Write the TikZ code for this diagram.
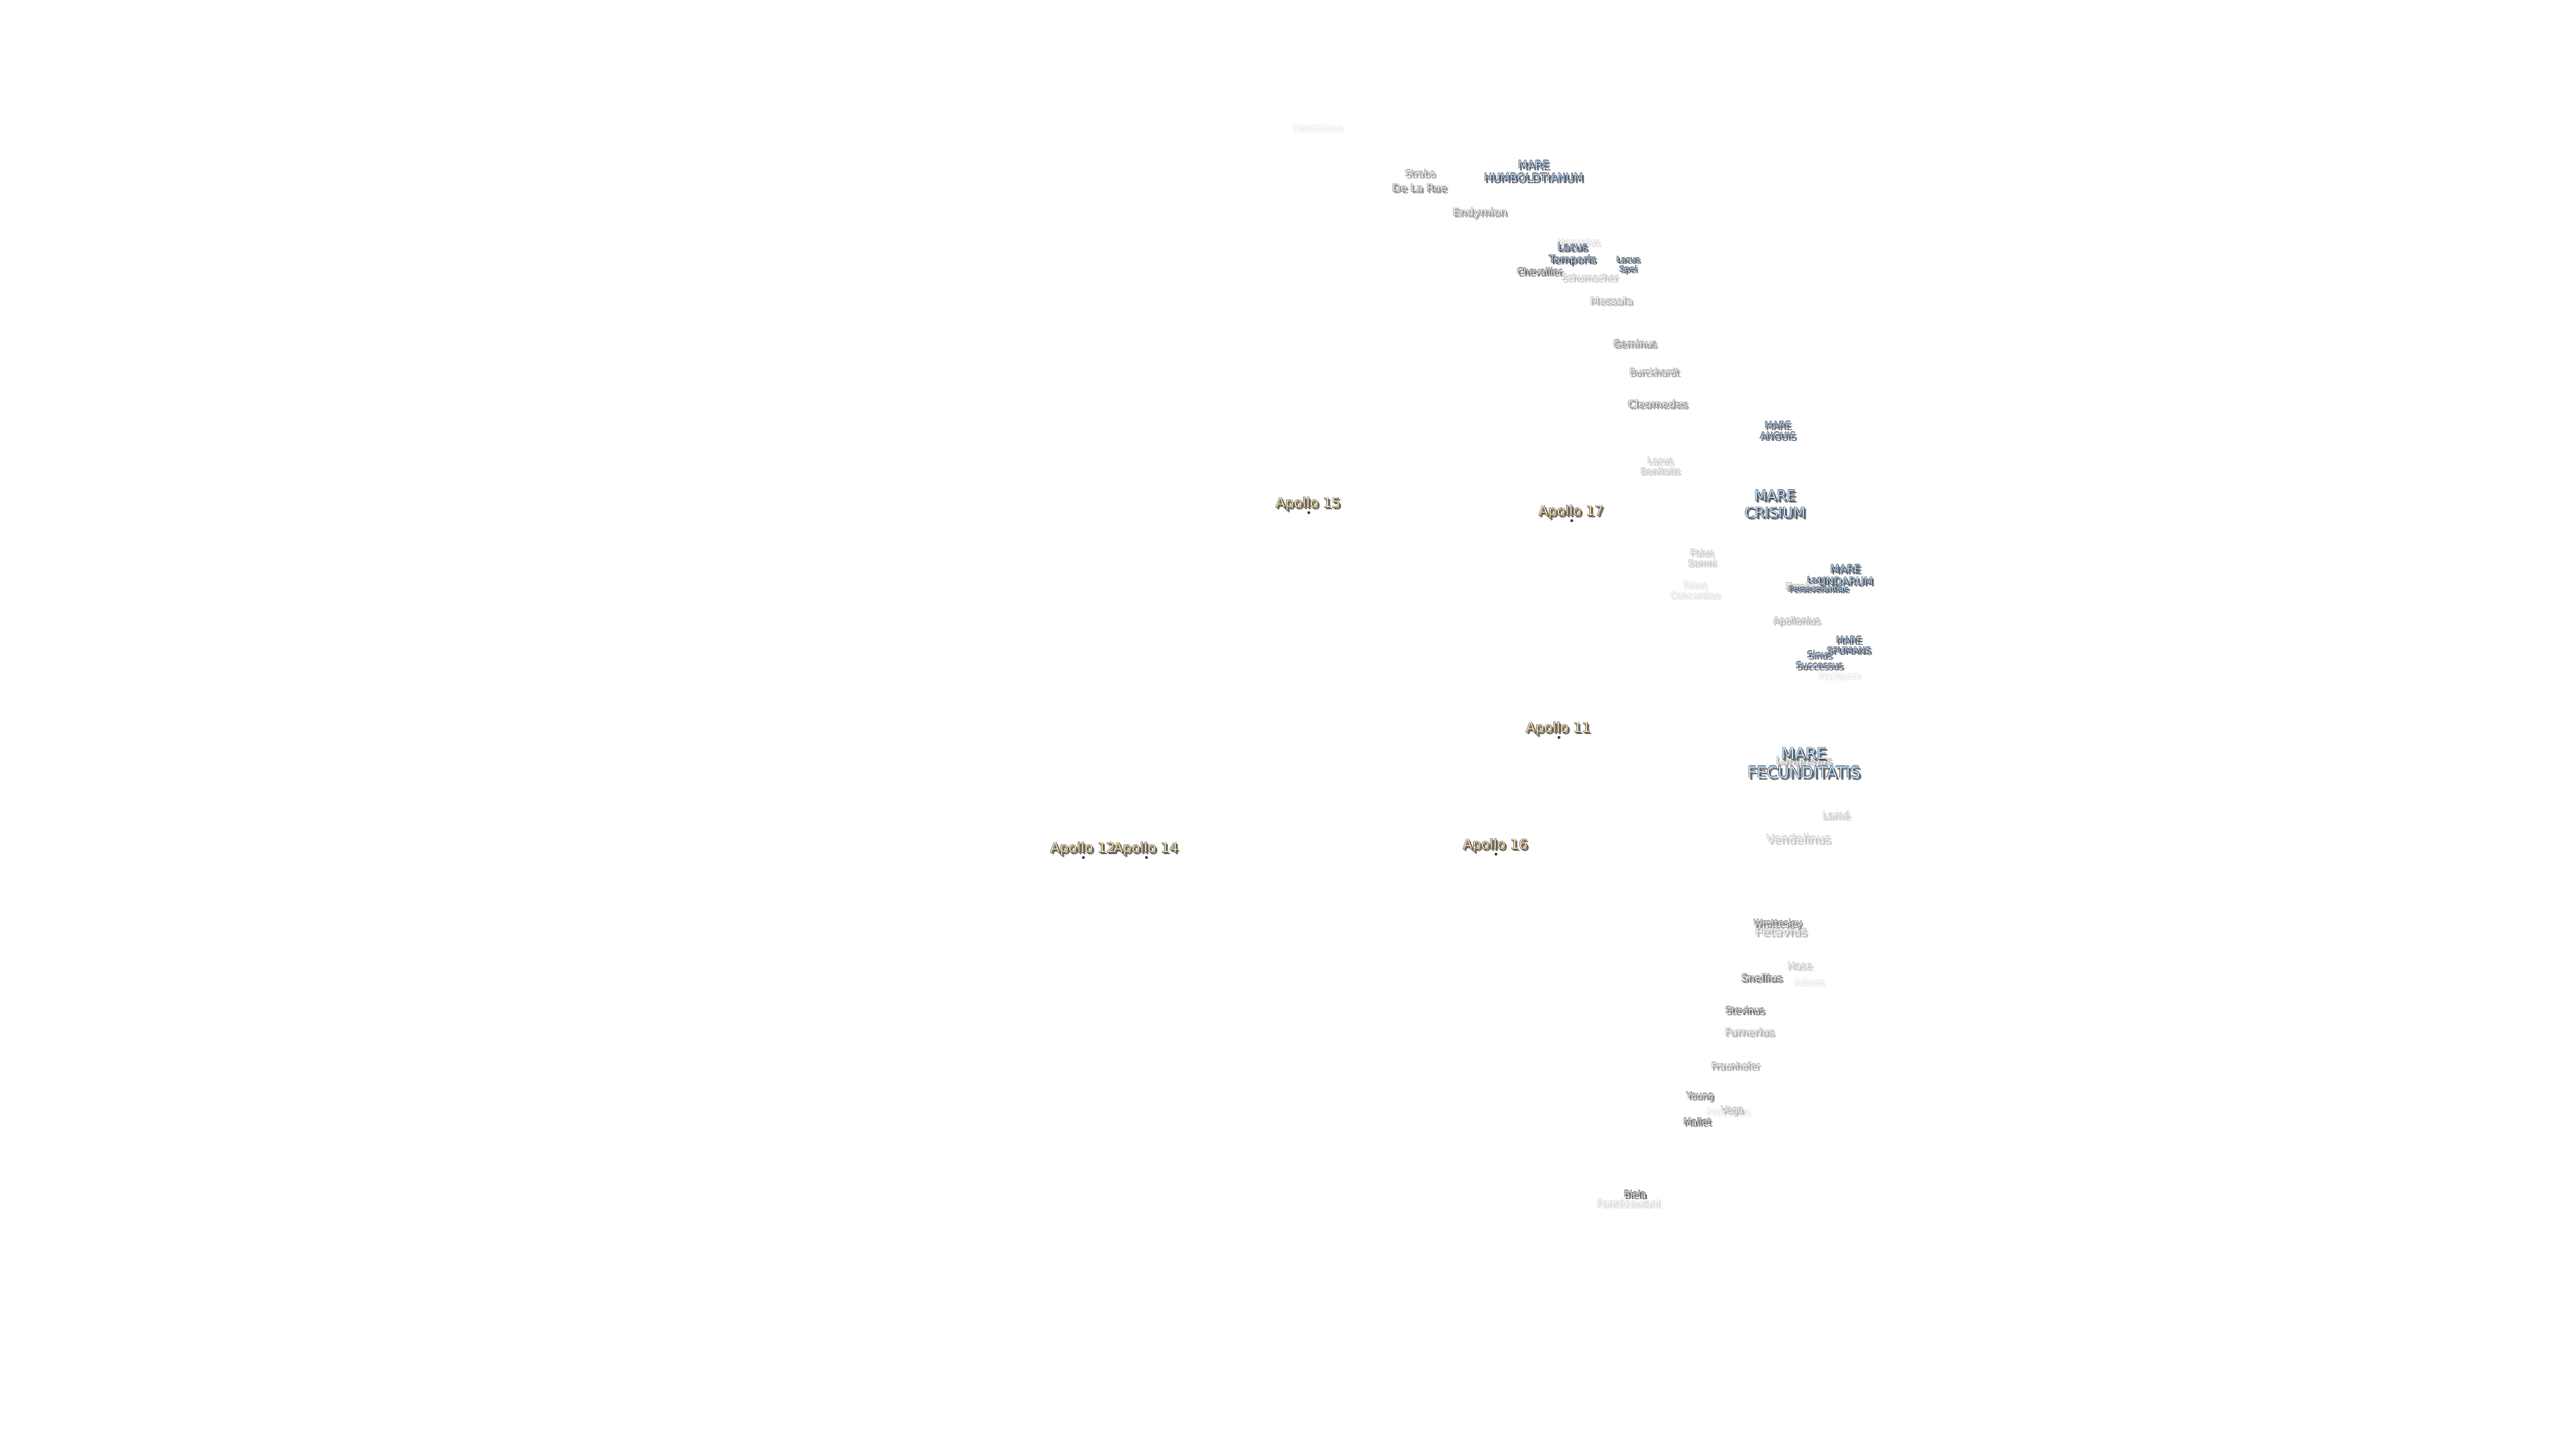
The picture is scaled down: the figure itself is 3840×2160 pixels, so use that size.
\documentclass[tikz,border=0pt]{standalone}
\usepackage{fontspec}
\setmainfont{DejaVu Sans}
\definecolor{craterfill}{HTML}{FFFFFF}
\definecolor{craterink}{HTML}{2A2A2A}
\definecolor{marefill}{HTML}{C4E2FF}
\definecolor{mareink}{HTML}{2C3440}
\definecolor{apollofill}{HTML}{FBE3AC}
\definecolor{apolloink}{HTML}{3A3A3A}
\definecolor{shadowgray}{HTML}{6A6A6A}
\tikzset{
  moonlabel/.style={inner sep=0pt,align=center},
  landingdot/.style={circle,inner sep=0pt,minimum size=1.2pt,fill=apolloink},
}
% name, x, y, size in px, strength, fill, ink, text
\newcommand{\moonlabel}[8]{%
  \pgfmathsetmacro\ptsz{#4*0.2845}%
  \pgfmathsetmacro\lnsz{#4*0.2845*1.17}%
  \foreach \dx/\dy in {2/3,3/3}
    \node[moonlabel,font=\fontsize{\ptsz}{\lnsz}\selectfont,text=shadowgray!#5!white] at (#2+\dx,#3+2+\dy) {\strut #8\strut};
  \foreach \dx/\dy in {-.6/0,.6/0,0/-.6,0/.6}
    \node[moonlabel,font=\fontsize{\ptsz}{\lnsz}\selectfont,text=#7!#5!white] at (#2+\dx,#3+2+\dy) {\strut #8\strut};
  \node[moonlabel,font=\fontsize{\ptsz}{\lnsz}\selectfont,text=#6!#5!white] (#1) at (#2,#3+2) {\strut #8\strut};
}
\begin{document}
\begin{tikzpicture}[x=0.01cm,y=-0.01cm]
  \useasboundingbox (0,0) rectangle (3840,2160);
  % craters, faint ones first
  \foreach \nm/\x/\y/\sz/\pct/\txt in {
    petermann/1964/190/14/10/Petermann,
    mercurius/2353/360/13/20/Mercurius,
    maclaurin/2742/1006/13/12/Maclaurin,
    adams/2697/1463/13.3/12/Adams,
    peirescius/2576/1656/13.1/12/Peirescius,
    pontecoulant/2428/1793/14.6/20/Pontécoulant,
    lame/2737/1215/14.8/30/Lamé,
    hase/2683/1439/14.7/30/Hase,
    schumacher/2370/413/13.5/35/Schumacher,
    vendelinus/2681/1250/17.5/35/Vendelinus,
    langrenus/2689/1133/16/45/Langrenus,
    firmicus/2690/874/14/45/Firmicus,
    apollonius/2678/924/13.6/45/Apollonius,
    messala/2402/448/15.7/45/Messala,
    petavius/2655/1388/18.4/45/Petavius,
    furnerius/2608/1538/15.9/45/Furnerius,
    vega/2582/1653/13.5/45/Vega,
    fraunhofer/2587/1588/13.3/55/Fraunhofer,
    strabo/2117/258/13.6/60/Strabo,
    endymion/2206/316/16.2/60/Endymion,
    geminus/2437/512/14.7/60/Geminus,
    burckhardt/2466/554/13.5/60/Burckhardt,
    cleomedes/2471/602/16/65/Cleomedes,
    delarue/2116/280/16/70/De La Rue,
    wrottesley/2650/1375/13.5/80/Wrottesley,
    snellius/2626/1457/15.7/80/Snellius,
    stevinus/2601/1505/13.5/85/Stevinus,
    young/2534/1632/13.5/80/Young,
    mallet/2530/1671/13.5/90/Mallet,
    chevallier/2295/404/13.4/90/Chevallier,
    biela/2437/1779/13.5/95/Biela}
    {\moonlabel{\nm}{\x}{\y}{\sz}{\pct}{craterfill}{craterink}{\txt}}
  % lakes and seas
  \foreach \nm/\x/\y/\sz/\pct/\txt in {
    sinusconc/2527/879/13.3/15/{Sinus\\Concordiae},
    palus/2537/831/13.4/30/{Palus\\Somni},
    bonitatis/2475/694/13.4/30/{Lacus\\Bonitatis},
    temporis/2344/377/15.6/100/{Lacus\\Temporis},
    spei/2427/393/12/100/{Lacus\\Spei},
    persev/2711/870/11.9/100/{Lacus\\Perseverantiae},
    successus/2712/983/13.5/100/{Sinus\\Successus},
    humboldt/2286/255/16.3/100/{MARE\\HUMBOLDTIANUM},
    anguis/2650/641/13.7/100/{MARE\\ANGUIS},
    crisium/2646/752/21.5/100/{MARE\\CRISIUM},
    undarum/2751/857/15.7/100/{MARE\\UNDARUM},
    spumans/2756/961/13.3/100/{MARE\\SPUMANS},
    fecund/2689/1138/23.6/100/{MARE\\FECUNDITATIS}}
    {\moonlabel{\nm}{\x}{\y}{\sz}{\pct}{marefill}{mareink}{\txt}}
  % landing sites
  \foreach \nm/\x/\y/\txt in {
    a12/1614/1264/Apollo 12,
    a14/1708/1264/Apollo 14,
    a15/1950/750/Apollo 15,
    a17/2342/762/Apollo 17,
    a11/2323/1085/Apollo 11,
    a16/2229/1259/Apollo 16}
    {\moonlabel{\nm}{\x}{\y}{20.6}{100}{apollofill}{apolloink}{\txt}
     \node[landingdot] (\nm dot) at (\x+1,\y+14) {};}
\end{tikzpicture}
\end{document}
